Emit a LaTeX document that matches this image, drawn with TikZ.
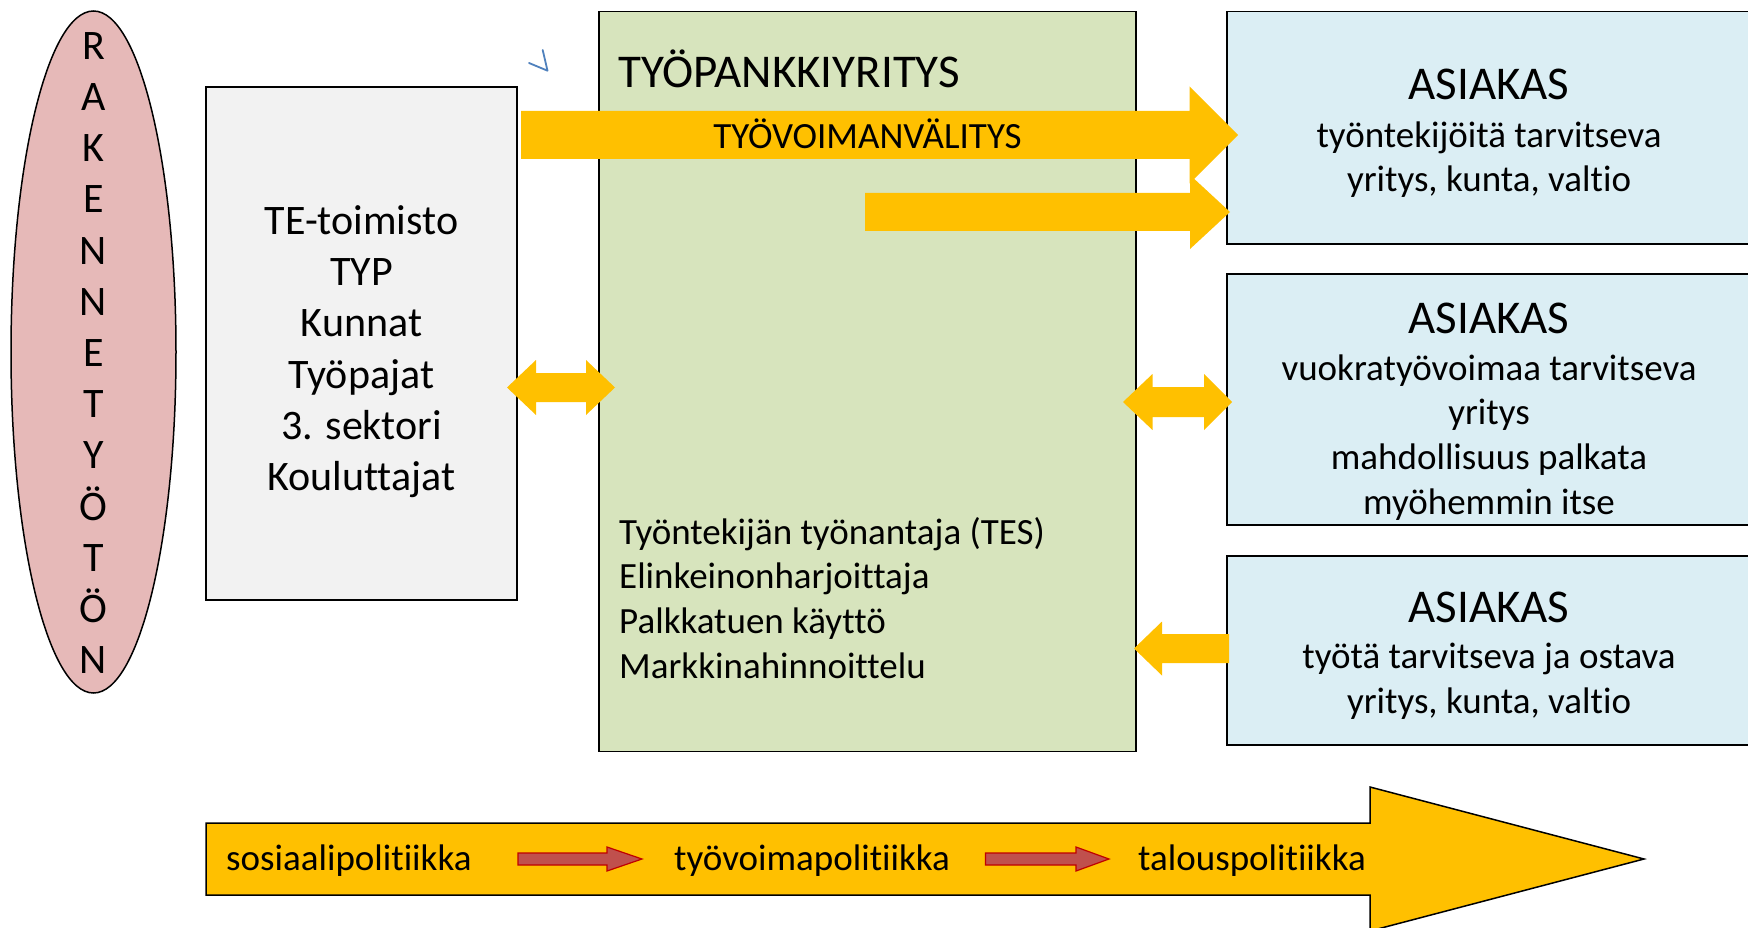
\documentclass[tikz,border=0pt]{standalone}
\usepackage{fontspec}
\setmainfont{Carlito}[Ligatures=NoCommon]
\usetikzlibrary{shapes.geometric}
\definecolor{rakpink}{HTML}{E6B9B8}
\definecolor{tegrey}{HTML}{F2F2F2}
\definecolor{tpgreen}{HTML}{D7E4BD}
\definecolor{asblue}{HTML}{DBEEF4}
\definecolor{arrowyellow}{HTML}{FFC000}
\definecolor{arrowred}{HTML}{C0504D}
\definecolor{penblue}{HTML}{4F81BD}
% block arrows: (tail:head base:tip)(middle y:half shaft:half head)
\def\rblock[#1](#2:#3:#4)(#5:#6:#7){\path[#1] (#2,#5-#6) -- (#3,#5-#6) -- (#3,#5-#7) -- (#4,#5) -- (#3,#5+#7) -- (#3,#5+#6) -- (#2,#5+#6) -- cycle;}
\def\dblock[#1](#2:#3:#4:#5)(#6:#7:#8){\path[#1] (#2,#6) -- (#3,#6-#8) -- (#3,#6-#7) -- (#4,#6-#7) -- (#4,#6-#8) -- (#5,#6) -- (#4,#6+#8) -- (#4,#6+#7) -- (#3,#6+#7) -- (#3,#6+#8) -- cycle;}
\tikzset{
	box/.style={draw, line width=1.5pt, inner sep=0pt},
	bigtxt/.style={font=\fontsize{42}{51.2}\selectfont, inner sep=0pt, align=center},
	headtxt/.style={font=\fontsize{47}{56}\selectfont, inner sep=0pt},
	smalltxt/.style={font=\fontsize{37}{44.8}\selectfont, inner sep=0pt, align=center},
	yellowarrow/.style={fill=arrowyellow},
	redarrow/.style={fill=arrowred, draw=red!75!black, line width=1.2pt}
}

\begin{document}
\begin{tikzpicture}[x=1pt, y=-1pt]
			%%%%% START %%%%%
			
			\path[use as bounding box, fill=white] (0,0) rectangle (1748,928);
			
			\node[box, ellipse, fill=rakpink, minimum width=165pt, minimum height=682pt] (rak) at (93.5,352) {};
			\node[box, fill=tegrey, minimum width=311pt, minimum height=513pt] (te) at (361.5,343.5) {};
			\node[box, fill=tpgreen, minimum width=537pt, minimum height=740pt] (tp) at (867.5,381.5) {};
			
			\node[box, fill=asblue, minimum width=524pt, minimum height=232.5pt] (as1) at (1489,127.75) {};
			\node[box, fill=asblue, minimum width=524pt, minimum height=251pt] (as2) at (1489,399.5) {};
			\node[box, fill=asblue, minimum width=524pt, minimum height=189pt] (as3) at (1489,650.5) {};
			
			\draw[penblue, line width=1.8pt, line cap=round, line join=round] (529,63) -- (547.5,70.7) -- (542.7,50);
			
			\rblock[yellowarrow](521:1189.5:1238)(135:24:48.5)
			\rblock[yellowarrow](865:1190:1230)(212:19:37)
			\dblock[yellowarrow](507:536:586:615)(387.5:14.5:27.5)
			\dblock[yellowarrow](1123:1152.5:1204:1232)(402:15:28)
			\rblock[yellowarrow](1229:1162:1134)(648.5:14.5:27)
			
			% multi-line nodes sit on their last baseline
			\node[bigtxt, anchor=base] (rakletters) at (93.5,673.7) {R\\A\\K\\E\\N\\N\\E\\T\\Y\\Ö\\T\\Ö\\N};
			\node[bigtxt, anchor=base] (tetext) at (361.5,490.5) {TE-toimisto\\TYP\\Kunnat\\Työpajat\\3. sektori\\Kouluttajat};
			
			\node[headtxt, anchor=base west] (tptitle) at (618,88) {TYÖPANKKIYRITYS};
			\node[smalltxt, anchor=base] (valitys) at (867.5,149) {TYÖVOIMANVÄLITYS};
			\node[smalltxt, align=left, anchor=base west] (tplist) at (619,678.4) {Työntekijän työnantaja (TES)\\Elinkeinonharjoittaja\\Palkkatuen käyttö\\Markkinahinnoittelu};
			
			\node[headtxt, anchor=base] (as1head) at (1489,100) {ASIAKAS};
			\node[smalltxt, anchor=base] (as1text) at (1489,192) {työntekijöitä tarvitseva\\yritys, kunta, valtio};
			\node[headtxt, anchor=base] (as2head) at (1489,333) {ASIAKAS};
			\node[smalltxt, anchor=base] (as2text) at (1489,514.4) {vuokratyövoimaa tarvitseva\\yritys\\mahdollisuus palkata\\myöhemmin itse};
			\node[headtxt, anchor=base] (as3head) at (1489,622) {ASIAKAS};
			\node[smalltxt, anchor=base] (as3text) at (1489,713) {työtä tarvitseva ja ostava\\yritys, kunta, valtio};
			
			\rblock[yellowarrow, draw=black, line width=1.5pt](206:1370:1644)(859:36:72)
			\rblock[redarrow](518:607:642)(859:6:12)
			\rblock[redarrow](985.5:1076:1109)(859:6:12)
			
			\node[smalltxt, anchor=base west] (sosiaali) at (226,870) {sosiaalipolitiikka};
			\node[smalltxt, anchor=base west] (tyovoima) at (674,870) {työvoimapolitiikka};
			\node[smalltxt, anchor=base west] (talous) at (1138,870) {talouspolitiikka};
			
			%%%%% END %%%%%
\end{tikzpicture}
\end{document}
